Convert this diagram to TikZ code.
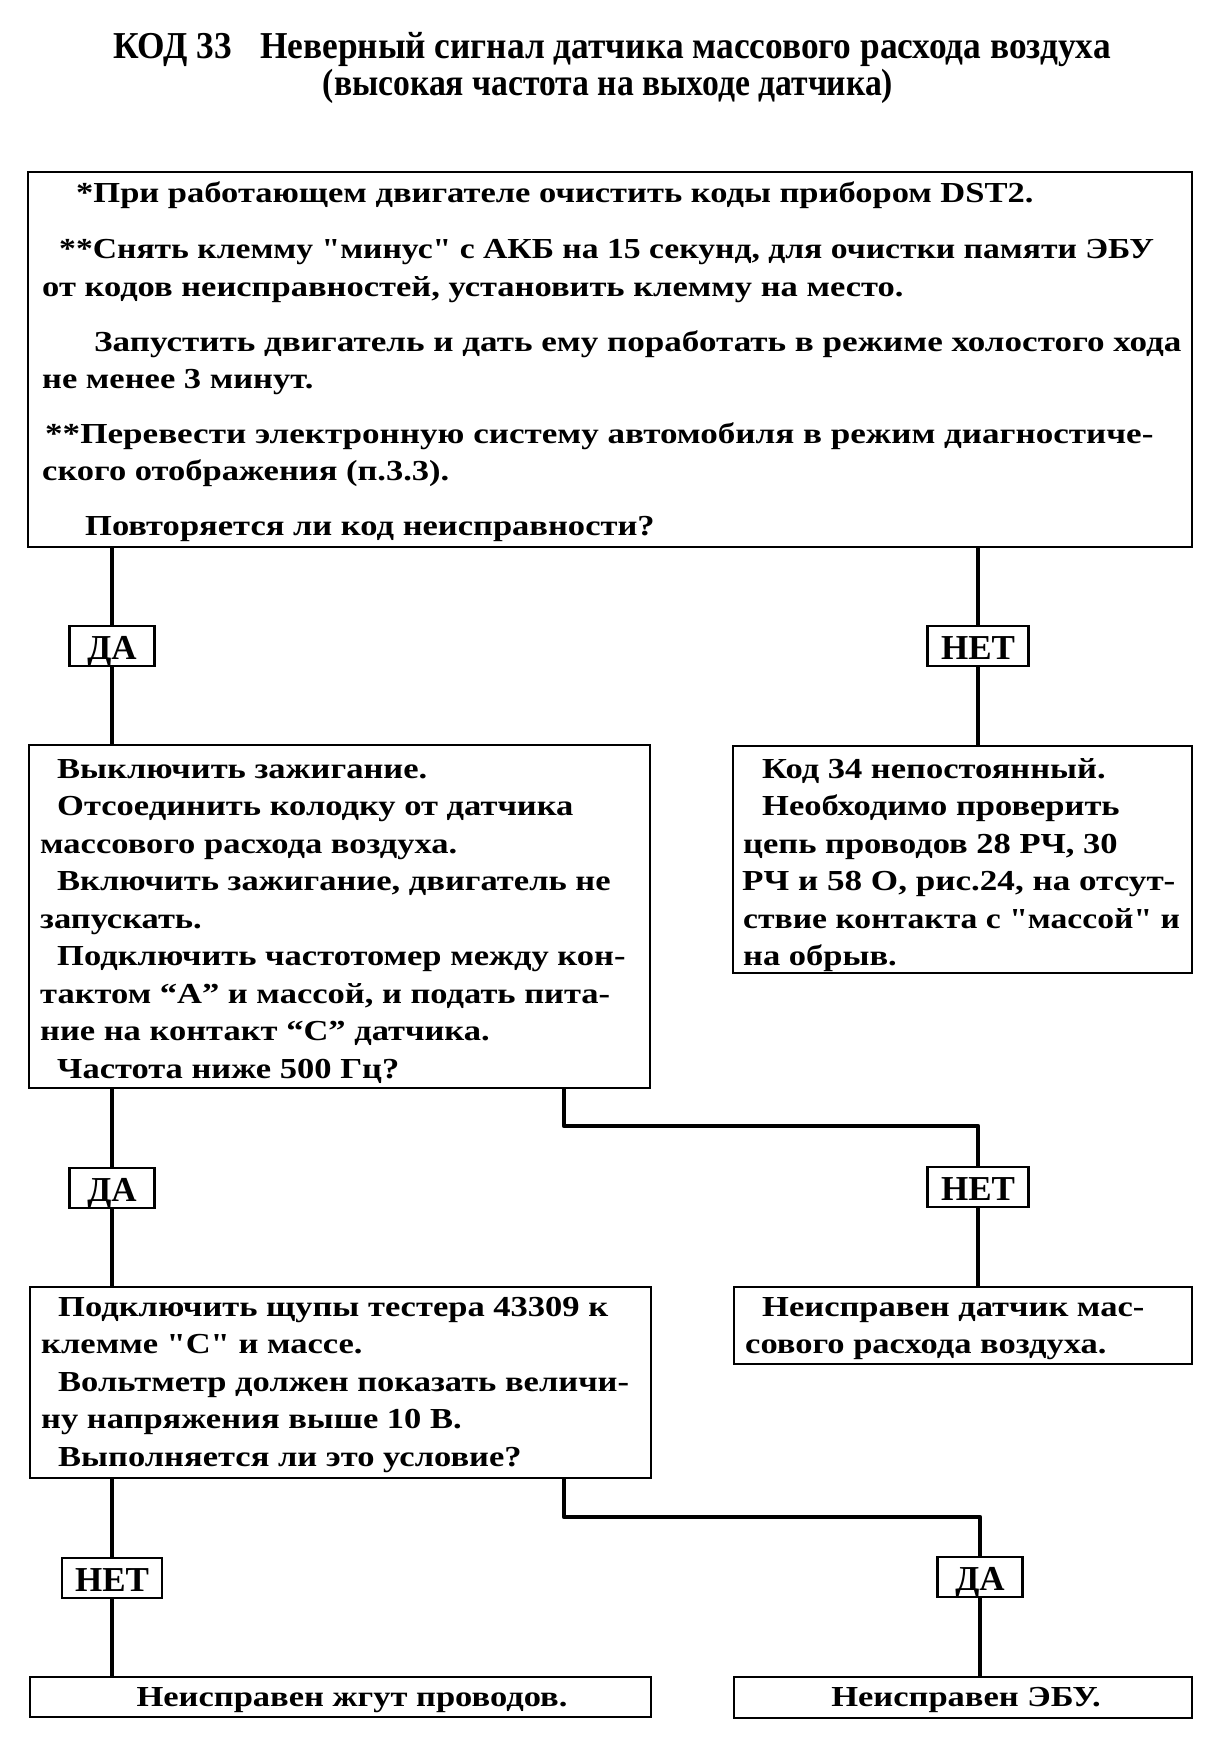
\documentclass[tikz,border=0pt]{standalone}
\usepackage{fontspec}
\newfontfamily\bodyfont{Liberation Serif}[FakeStretch=1.19]
\newfontfamily\bodyfontn{Liberation Serif}[FakeStretch=1.16]
\newfontfamily\bodyfontw{Liberation Serif}[FakeStretch=1.21]
\newfontfamily\titlefont{Liberation Serif}[FakeStretch=0.93]
\newfontfamily\subtitlefont{Liberation Serif}[FakeStretch=0.885]
\newfontfamily\labelfont{Liberation Serif}[FakeStretch=1.0]
\begin{document}
\begin{tikzpicture}[x=1pt,y=-1pt,
  box/.style={draw, line width=2.5pt, inner sep=0pt, outer sep=0pt, anchor=north west},
  conn/.style={line width=4.5pt},
  lab/.style={draw, line width=2.5pt, fill=white, inner xsep=0pt, inner ysep=0pt, outer sep=0pt,
    minimum height=40pt, text height=27pt, text depth=0pt,
    font=\labelfont\bfseries\fontsize{35}{35}\selectfont},
  txt/.style={anchor=base west, inner sep=0pt, font=\bodyfont\bfseries\fontsize{29}{30}\selectfont},
  txtn/.style={txt, font=\bodyfontn\bfseries\fontsize{29}{30}\selectfont},
  txtw/.style={txt, font=\bodyfontw\bfseries\fontsize{29}{30}\selectfont},
  ttl/.style={anchor=base, inner sep=0pt, font=\titlefont\bfseries\fontsize{38}{40}\selectfont},
  subttl/.style={anchor=base, inner sep=0pt, font=\subtitlefont\bfseries\fontsize{38}{40}\selectfont}
]
\useasboundingbox[fill=white] (0,0) rectangle (1224,1756);

% title
\node[ttl] (title1) at (612,58) {КОД 33\hspace{28pt}Неверный сигнал датчика массового расхода воздуха};
\node[subttl] (title2) at (608,95) {(высокая частота на выходе датчика)};

% boxes
\node[box, minimum width=1164pt, minimum height=375pt] (top) at (28,172) {};
\node[box, minimum width=621pt, minimum height=343pt] (b2) at (29,745) {};
\node[box, minimum width=459pt, minimum height=227pt] (b3) at (733,746) {};
\node[box, minimum width=621pt, minimum height=191pt] (b4) at (30,1287) {};
\node[box, minimum width=458pt, minimum height=77pt] (b5) at (734,1287) {};
\node[box, minimum width=621pt, minimum height=40pt] (b6) at (30,1677) {};
\node[box, minimum width=458pt, minimum height=41pt] (b7) at (734,1677) {};

% top box text
\node[txt] (a1) at (76,202) {*При работающем двигателе очистить коды прибором DST2.};
\node[txtn] (a2) at (59,258) {**Снять клемму "минус" с АКБ на 15 секунд, для очистки памяти ЭБУ};
\node[txt] (a3) at (42,296) {от кодов неисправностей, установить клемму на место.};
\node[txtw] (a4) at (94,351) {Запустить двигатель и дать ему поработать в режиме холостого хода};
\node[txt] (a5) at (42,388) {не менее 3 минут.};
\node[txtw] (a6) at (45,443) {**Перевести электронную систему автомобиля в режим диагностиче-};
\node[txt] (a7) at (42,480) {ского отображения (п.3.3).};
\node[txt] (a8) at (85,535) {Повторяется ли код неисправности?};

% box 2 text
\node[txt] (c1) at (57,778) {Выключить зажигание.};
\node[txt] (c2) at (57,815.5) {Отсоединить колодку от датчика};
\node[txt] (c3) at (40,853) {массового расхода воздуха.};
\node[txt] (c4) at (57,890.5) {Включить зажигание, двигатель не};
\node[txt] (c5) at (40,928) {запускать.};
\node[txt] (c6) at (57,965.5) {Подключить частотомер между кон-};
\node[txt] (c7) at (40,1003) {тактом “А” и массой, и подать пита-};
\node[txt] (c8) at (40,1040.5) {ние на контакт “С” датчика.};
\node[txt] (c9) at (57,1078) {Частота ниже 500 Гц?};

% box 3 text
\node[txt] (d1) at (762,778) {Код 34 непостоянный.};
\node[txt] (d2) at (762,815.5) {Необходимо проверить};
\node[txt] (d3) at (743,853) {цепь проводов 28 РЧ, 30};
\node[txtw] (d4) at (742,890.5) {РЧ и 58 О, рис.24, на отсут-};
\node[txtn] (d5) at (743,928) {ствие контакта с "массой" и};
\node[txt] (d6) at (743,965.5) {на обрыв.};

% box 4 text
\node[txt] (e1) at (58,1316) {Подключить щупы тестера 43309 к};
\node[txt] (e2) at (41,1353.5) {клемме "С" и массе.};
\node[txt] (e3) at (58,1391) {Вольтметр должен показать величи-};
\node[txt] (e4) at (41,1428.5) {ну напряжения выше 10 В.};
\node[txt] (e5) at (58,1466) {Выполняется ли это условие?};

% box 5 text
\node[txt] (f1) at (762,1316) {Неисправен датчик мас-};
\node[txt] (f2) at (745,1353.5) {сового расхода воздуха.};

% box 6, 7 text
\node[txt, anchor=base] (g1) at (352,1706) {Неисправен жгут проводов.};
\node[txt, anchor=base] (h1) at (966,1706) {Неисправен ЭБУ.};

% connector corners
\coordinate (k2a) at (564,1088);
\coordinate (k2b) at (564,1126);
\coordinate (k4a) at (564,1478);
\coordinate (k4b) at (564,1517);

% labels
\node[lab, minimum width=85pt] (l1) at (112,646) {ДА};
\node[lab, minimum width=101pt] (l2) at (978,646) {НЕТ};
\node[lab, minimum width=85pt] (l3) at (112,1188) {ДА};
\node[lab, minimum width=101pt] (l4) at (978,1187) {НЕТ};
\node[lab, minimum width=100pt] (l5) at (112,1578) {НЕТ};
\node[lab, minimum width=85pt] (l6) at (980,1577) {ДА};

% connectors
\draw[conn] (l1.north |- top.south) -- (l1.north);
\draw[conn] (l1.south) -- (l1.south |- b2.north);
\draw[conn] (l2.north |- top.south) -- (l2.north);
\draw[conn] (l2.south) -- (l2.south |- b3.north);
\draw[conn] (l3.north |- b2.south) -- (l3.north);
\draw[conn] (l3.south) -- (l3.south |- b4.north);
\draw[conn, line join=round] (k2a) -- (k2b) -| (l4.north);
\draw[conn] (l4.south) -- (l4.south |- b5.north);
\draw[conn] (l5.north |- b4.south) -- (l5.north);
\draw[conn] (l5.south) -- (l5.south |- b6.north);
\draw[conn, line join=round] (k4a) -- (k4b) -| (l6.north);
\draw[conn] (l6.south) -- (l6.south |- b7.north);
\end{tikzpicture}
\end{document}
